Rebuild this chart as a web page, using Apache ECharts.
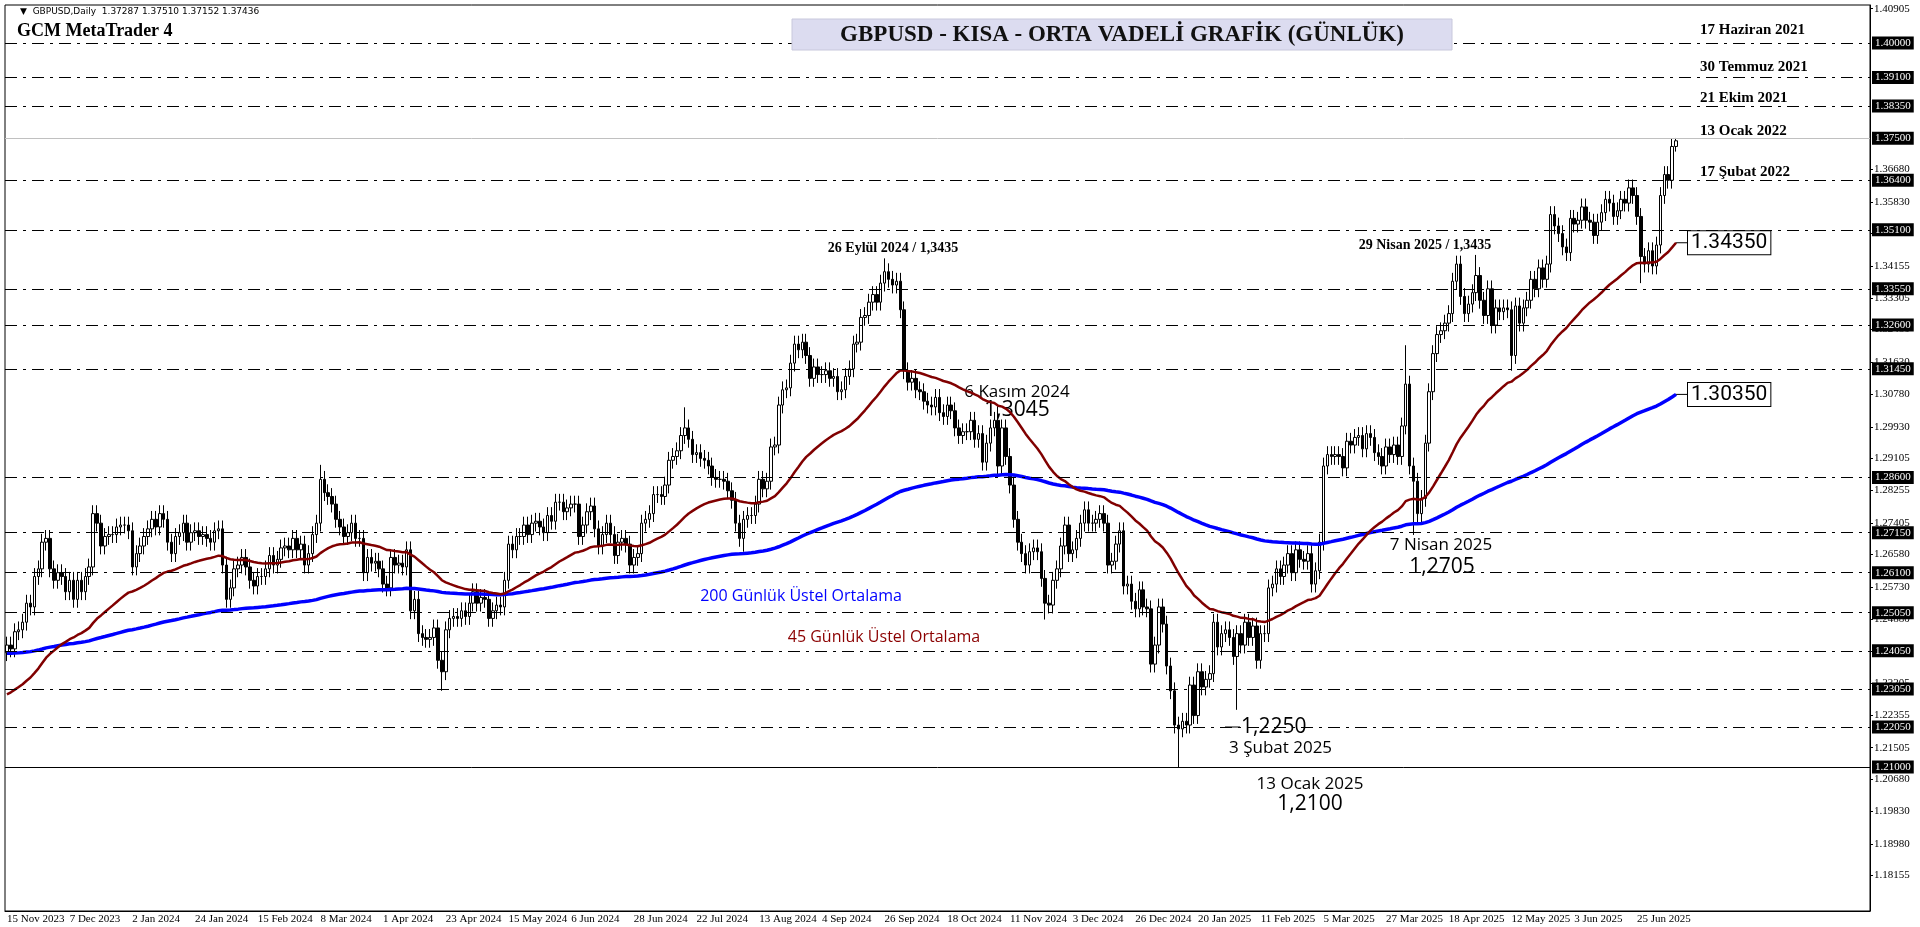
<!DOCTYPE html>
<html><head><meta charset="utf-8">
<script src="https://cdn.jsdelivr.net/npm/echarts@6/dist/echarts.min.js"></script>
<style>html,body{margin:0;padding:0;background:#fff}#c{width:1920px;height:927px}</style>
</head><body><div id="c"></div>
<script>
const startDate = '2023-11-15';
const totalSlots = 476;
const closes = [
1.2420,1.2410,1.2455,1.2460,1.2480,1.2530,1.2520,1.2600,1.2620,1.2690,1.2700,1.2620,1.2590,1.2610,1.2600,1.2560,
1.2590,1.2540,1.2590,1.2560,1.2600,1.2625,1.2765,1.2740,1.2680,1.2705,1.2710,1.2710,1.2730,1.2735,1.2735,1.2720,
1.2625,1.2660,1.2680,1.2705,1.2725,1.2750,1.2730,1.2765,1.2750,1.2690,1.2660,1.2705,1.2715,1.2740,1.2690,1.2715,
1.2720,1.2705,1.2710,1.2700,1.2690,1.2720,1.2725,1.2630,1.2540,1.2570,1.2620,1.2630,1.2650,1.2625,1.2590,1.2575,
1.2600,1.2600,1.2620,1.2655,1.2630,1.2645,1.2675,1.2680,1.2670,1.2700,1.2670,1.2685,1.2630,1.2660,1.2710,1.2740,
1.2855,1.2820,1.2810,1.2790,1.2750,1.2730,1.2705,1.2715,1.2740,1.2700,1.2700,1.2610,1.2650,1.2635,1.2640,1.2620,
1.2580,1.2570,1.2650,1.2630,1.2635,1.2625,1.2670,1.2510,1.2540,1.2450,1.2440,1.2435,1.2440,1.2465,1.2380,1.2350,
1.2460,1.2490,1.2495,1.2490,1.2510,1.2495,1.2530,1.2560,1.2530,1.2545,1.2540,1.2490,1.2510,1.2525,1.2520,1.2590,
1.2685,1.2670,1.2705,1.2705,1.2735,1.2710,1.2740,1.2745,1.2730,1.2715,1.2760,1.2745,1.2795,1.2795,1.2770,1.2780,
1.2790,1.2790,1.2705,1.2735,1.2770,1.2785,1.2725,1.2680,1.2710,1.2740,1.2710,1.2655,1.2690,1.2700,1.2685,1.2630,
1.2650,1.2660,1.2740,1.2750,1.2765,1.2815,1.2815,1.2810,1.2840,1.2905,1.2915,1.2930,1.2970,1.2990,1.2960,1.2920,
1.2925,1.2910,1.2905,1.2890,1.2860,1.2855,1.2855,1.2850,1.2825,1.2800,1.2740,1.2700,1.2750,1.2760,1.2760,1.2790,
1.2855,1.2830,1.2850,1.2940,1.2945,1.3050,1.3090,1.3095,1.3160,1.3210,1.3195,1.3215,1.3180,1.3120,1.3150,1.3130,
1.3130,1.3140,1.3120,1.3125,1.3085,1.3090,1.3125,1.3145,1.3210,1.3215,1.3280,1.3285,1.3320,1.3340,1.3320,1.3370,
1.3400,1.3380,1.3365,1.3375,1.3300,1.3140,1.3110,1.3120,1.3090,1.3085,1.3060,1.3050,1.3045,1.3070,1.3030,1.3020,
1.3050,1.3035,1.2990,1.2970,1.2980,1.2980,1.3010,1.2960,1.2975,1.2900,1.2950,1.2990,1.3010,1.2890,1.2990,1.2915,
1.2840,1.2750,1.2690,1.2660,1.2630,1.2665,1.2675,1.2665,1.2595,1.2530,1.2525,1.2590,1.2620,1.2680,1.2735,1.2660,
1.2670,1.2700,1.2740,1.2775,1.2740,1.2740,1.2750,1.2765,1.2740,1.2630,1.2640,1.2685,1.2720,1.2575,1.2580,1.2535,
1.2515,1.2565,1.2520,1.2515,1.2370,1.2420,1.2520,1.2475,1.2365,1.2300,1.2210,1.2200,1.2220,1.2210,1.2315,1.2235,
1.2350,1.2310,1.2330,1.2345,1.2480,1.2415,1.2450,1.2460,1.2440,1.2390,1.2450,1.2420,1.2480,1.2440,1.2470,1.2380,
1.2450,1.2450,1.2570,1.2580,1.2620,1.2600,1.2630,1.2660,1.2610,1.2670,1.2645,1.2640,1.2660,1.2580,1.2615,1.2690,
1.2890,1.2920,1.2915,1.2920,1.2915,1.2885,1.2955,1.2945,1.2965,1.2970,1.2935,1.2975,1.2965,1.2925,1.2915,1.2890,
1.2940,1.2920,1.2945,1.2915,1.2995,1.3105,1.2890,1.2850,1.2765,1.2805,1.2950,1.3085,1.3185,1.3235,1.3245,1.3265,
1.3290,1.3375,1.3420,1.3335,1.3290,1.3315,1.3345,1.3390,1.3325,1.3285,1.3355,1.3260,1.3305,1.3295,1.3305,1.3300,
1.3180,1.3310,1.3265,1.3305,1.3325,1.3380,1.3355,1.3410,1.3380,1.3420,1.3550,1.3520,1.3500,1.3465,1.3450,1.3540,
1.3525,1.3535,1.3570,1.3535,1.3530,1.3495,1.3530,1.3555,1.3590,1.3580,1.3545,1.3560,
1.3590,1.3580,1.3620,1.3600,1.3545,1.3440,1.3420,1.3455,1.3415,1.3470,1.3600,1.3655,1.3640,1.37287,1.37436
];
const firstOpen = 1.2400;
// [index, high, low] (null = default wick)
const extremes = [[80,1.2893,null],[111,null,1.2300],[173,1.3044,null],[188,null,1.2665],[224,1.3435,null],
 [253,1.3047,null],[265,null,1.2487],[299,null,1.2100],[314,null,1.2250],[357,1.3207,null],[359,null,1.2709],
 [375,1.3444,null],[384,null,1.3140],[417,null,1.3370],[426,1.37510,1.37152]];
const ema45Seed = 1.2285, ema200Seed = 1.2398;
const levels = [1.40000,1.39100,1.38350,1.36400,1.35100,1.33550,1.32600,1.31450,1.28600,1.27150,1.26100,1.25050,1.24050,1.23050,1.22050];
const currentPrice = 1.37500, baseLevel = 1.21000;
const tickLabels = [1.40905,1.36680,1.35830,1.35005,1.34155,1.33305,1.32480,1.31630,1.30780,1.29930,1.29105,1.28255,1.27405,1.26580,1.25730,1.24880,1.24030,1.23205,1.22355,1.21505,1.20680,1.19830,1.18980,1.18155];
const rightNotes = [['17 Haziran 2021',30],['30 Temmuz 2021',67],['21 Ekim 2021',98],['13 Ocak 2022',131],['17 Şubat 2022',172]];

const mon=['Jan','Feb','Mar','Apr','May','Jun','Jul','Aug','Sep','Oct','Nov','Dec'];
const dates=[]; let d=new Date(startDate+'T12:00:00Z');
while(dates.length<totalSlots){const wd=d.getUTCDay();const m=d.getUTCMonth(),dd=d.getUTCDate();
 if(wd!==0&&wd!==6&&!(m===11&&dd===25)&&!(m===0&&dd===1)) dates.push(dd+' '+mon[m]+' '+d.getUTCFullYear());
 d=new Date(d.getTime()+86400000);}
const ex={}; extremes.forEach(e=>ex[e[0]]=e);
const ohlc=closes.map((c,i)=>{const o=i?closes[i-1]:firstOpen;let h=Math.max(o,c)+0.0022,l=Math.min(o,c)-0.0022;
 if(ex[i]){if(ex[i][1]!=null)h=ex[i][1]; if(ex[i][2]!=null)l=ex[i][2];} return [o,c,l,h];});
function ema(n,seed){const k=2/(n+1);let p=seed;return closes.map(c=>(p=p+k*(c-p)));}
const e45=ema(45,ema45Seed), e200=ema(200,ema200Seed);
const last=closes.length-1;

const chart=echarts.init(document.getElementById('c'));
const serif='Liberation Serif', sans='Open Sans';
const dashLine={type:[12,6,3,6],color:'#000',width:1};
const labelIdx=i=>i%16===0 && i<=last;
chart.setOption({
 animation:false,
 grid:{left:5,right:50,top:5,bottom:16,show:true,borderColor:'#000',borderWidth:1},
 xAxis:{type:'category',data:dates,boundaryGap:true,
  axisLine:{lineStyle:{color:'#000'}},
  axisTick:{interval:labelIdx,length:3,lineStyle:{color:'#000'}},
  axisLabel:{interval:labelIdx,align:'left',margin:3,fontSize:11,color:'#000',fontFamily:'Liberation Sans Narrow'},
  splitLine:{show:false}},
 yAxis:{type:'value',position:'right',min:1.1722,max:1.41,scale:true,
  axisLine:{show:true,lineStyle:{color:'#000'}},
  axisTick:{show:true,length:3,customValues:tickLabels,lineStyle:{color:'#000'}},
  axisLabel:{customValues:tickLabels,formatter:v=>v.toFixed(5),fontSize:11,color:'#000',margin:4,fontFamily:'Liberation Sans Narrow'},
  splitLine:{show:false}},
 series:[
  {type:'candlestick',data:ohlc,barWidth:3,
   itemStyle:{color:'#fff',color0:'#000',borderColor:'#000',borderColor0:'#000',borderWidth:1},
   markLine:{symbol:'none',silent:true,precision:5,
    label:{position:'end',formatter:p=>Number(p.value).toFixed(5),backgroundColor:'#000',color:'#fff',fontSize:11,padding:[1,3],distance:2,fontFamily:'Liberation Sans Narrow'},
    data:levels.map(v=>({yAxis:v,lineStyle:dashLine})).concat([
     {yAxis:currentPrice,lineStyle:{type:'solid',color:'#c0c0c0',width:1}},
     {yAxis:baseLevel,lineStyle:{type:'solid',color:'#000',width:1}}])}},
  {type:'line',data:e200,showSymbol:false,lineStyle:{color:'#0000ff',width:3.5},z:3},
  {type:'line',data:e45,showSymbol:false,lineStyle:{color:'#800000',width:2.5},z:3}
 ]
});
function box(val,label){const p=chart.convertToPixel({xAxisIndex:0,yAxisIndex:0},[last,val]);
 return [{type:'line',shape:{x1:p[0],y1:p[1],x2:1688,y2:p[1]},style:{stroke:'#000',lineWidth:1}},
  {type:'text',x:1688,y:p[1],style:{text:label,fontSize:21,fill:'#000',fontFamily:'Roboto',verticalAlign:'middle',backgroundColor:'#fff',borderColor:'#000',borderWidth:1,padding:[1,3]}}];}
chart.setOption({graphic:[
  {type:'text',left:20,top:7,style:{text:'▼  GBPUSD,Daily  1.37287 1.37510 1.37152 1.37436',fontSize:9,fill:'#000',fontFamily:'DejaVu Sans'}},
  {type:'text',left:17,top:22,style:{text:'GCM MetaTrader 4',fontSize:18,fontWeight:'bold',fill:'#000',fontFamily:serif}},
  {type:'rect',z:100,shape:{x:792,y:19,width:660,height:31},style:{fill:'#dcdcf0',stroke:'#c8c8dc'}},
  {type:'text',z:101,x:1122,y:35,style:{text:'GBPUSD - KISA - ORTA VADELİ GRAFİK (GÜNLÜK)',fontSize:23,fontWeight:'bold',fill:'#111',fontFamily:serif,align:'center',verticalAlign:'middle'}},
  ...rightNotes.map(n=>({type:'text',x:1700,y:n[1],style:{text:n[0],fontSize:15,fontWeight:'bold',fill:'#000',fontFamily:serif,verticalAlign:'middle'}})),
  {type:'text',x:893,y:248,style:{text:'26 Eylül 2024 / 1,3435',fontSize:14,fontWeight:'bold',fill:'#000',fontFamily:serif,align:'center',verticalAlign:'middle'}},
  {type:'text',x:1425,y:245,style:{text:'29 Nisan 2025 / 1,3435',fontSize:14,fontWeight:'bold',fill:'#000',fontFamily:serif,align:'center',verticalAlign:'middle'}},
  {type:'text',x:1017,y:392,style:{text:'6 Kasım 2024',fontSize:17,fill:'#000',fontFamily:sans,align:'center',verticalAlign:'middle'}},
  {type:'text',x:1017,y:410,style:{text:'1,3045',fontSize:21,fill:'#000',fontFamily:sans,align:'center',verticalAlign:'middle'}},
  {type:'text',x:801,y:596,style:{text:'200 Günlük Üstel Ortalama',fontSize:16,fill:'#0000ff',fontFamily:sans,align:'center',verticalAlign:'middle'}},
  {type:'text',x:884,y:637,style:{text:'45 Günlük Üstel Ortalama',fontSize:16,fill:'#8b0000',fontFamily:sans,align:'center',verticalAlign:'middle'}},
  {type:'text',x:1441,y:545,style:{text:'7 Nisan 2025',fontSize:17,fill:'#000',fontFamily:sans,align:'center',verticalAlign:'middle'}},
  {type:'text',x:1442,y:567,style:{text:'1,2705',fontSize:21,fill:'#000',fontFamily:sans,align:'center',verticalAlign:'middle'}},
  {type:'line',shape:{x1:1225,y1:727,x2:1240,y2:727},style:{stroke:'#000',lineWidth:1}},
  {type:'text',x:1241,y:727,style:{text:'1,2250',fontSize:21,fill:'#000',fontFamily:sans,verticalAlign:'middle'}},
  {type:'text',x:1229,y:748,style:{text:'3 Şubat 2025',fontSize:17,fill:'#000',fontFamily:sans,verticalAlign:'middle'}},
  {type:'text',x:1310,y:784,style:{text:'13 Ocak 2025',fontSize:17,fill:'#000',fontFamily:sans,align:'center',verticalAlign:'middle'}},
  {type:'text',x:1310,y:804,style:{text:'1,2100',fontSize:21,fill:'#000',fontFamily:sans,align:'center',verticalAlign:'middle'}},
  ...box(e45[last],'1.34350'),...box(e200[last],'1.30350')
]});
</script></body></html>
